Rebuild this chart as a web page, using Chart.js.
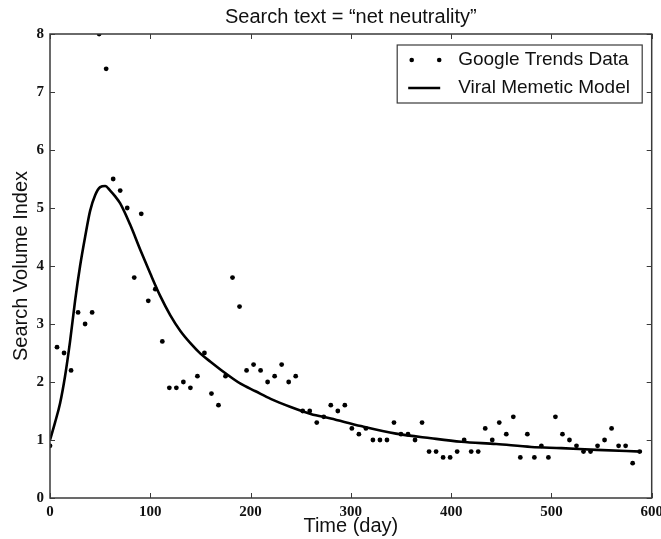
<!DOCTYPE html>
<html>
<head>
<meta charset="utf-8">
<script src="https://cdn.jsdelivr.net/npm/chart.js@4/dist/chart.umd.min.js"></script>
<style>
  html, body { margin: 0; padding: 0; background: #fff; }
  #wrap { width: 661px; height: 539px; }
</style>
</head>
<body>
<div id="wrap"><canvas id="c" width="661" height="539"></canvas></div>
<script>
// ---- Data ----
const trendDays = [0,7,14,21,28,35,42,49,56,63,70,77,84,91,98,105,112,119,126,133,140,147,154,161,168,175,182,189,196,203,210,217,224,231,238,245,252,259,266,273,280,287,294,301,308,315,322,329,336,343,350,357,364,371,378,385,392,399,406,413,420,427,434,441,448,455,462,469,476,483,490,497,504,511,518,525,532,539,546,553,560,567,574,581,588];
const trendValues = [0.9,2.6,2.5,2.2,3.2,3.0,3.2,8.0,7.4,5.5,5.3,5.0,3.8,4.9,3.4,3.6,2.7,1.9,1.9,2.0,1.9,2.1,2.5,1.8,1.6,2.1,3.8,3.3,2.2,2.3,2.2,2.0,2.1,2.3,2.0,2.1,1.5,1.5,1.3,1.4,1.6,1.5,1.6,1.2,1.1,1.2,1.0,1.0,1.0,1.3,1.1,1.1,1.0,1.3,0.8,0.8,0.7,0.7,0.8,1.0,0.8,0.8,1.2,1.0,1.3,1.1,1.4,0.7,1.1,0.7,0.9,0.7,1.4,1.1,1.0,0.9,0.8,0.8,0.9,1.0,1.2,0.9,0.9,0.6,0.8];

const modelDays = [0,5,10,15,20,25,30,35,40,45,50,55,60,65,70,80,90,100,110,120,130,140,150,160,175,190,205,220,240,260,280,310,345,380,410,445,480,510,545,590];
const modelValues = [1.0,1.3,1.63,2.1,2.7,3.4,4.0,4.5,4.95,5.22,5.36,5.38,5.3,5.2,5.08,4.71,4.28,3.87,3.48,3.15,2.88,2.67,2.49,2.35,2.15,1.97,1.84,1.71,1.57,1.45,1.37,1.24,1.11,1.03,0.97,0.93,0.88,0.86,0.83,0.80];

const xTicks = [0,100,200,300,400,500,600];
const yTicks = [0,1,2,3,4,5,6,7,8];

const titleText = 'Search text = \u201Cnet neutrality\u201D';
const xTitle = 'Time (day)';
const yTitle = 'Search Volume Index';
const seriesNames = ['Google Trends Data', 'Viral Memetic Model'];

// ---- Plugins ----
const frameColor = '#3a3a3a';
const framePlugin = {
  id: 'frame',
  afterDatasetsDraw(chart) {
    const {ctx, chartArea: a, scales: {x, y}} = chart;
    ctx.save();
    ctx.strokeStyle = frameColor;
    ctx.lineWidth = 1.5;
    ctx.strokeRect(a.left, a.top, a.right - a.left, a.bottom - a.top);
    ctx.lineWidth = 1;
    const tl = 5;
    ctx.beginPath();
    x.ticks.forEach(t => {
      const px = Math.round(x.getPixelForValue(t.value)) + 0.5;
      ctx.moveTo(px, a.bottom); ctx.lineTo(px, a.bottom - tl);
      ctx.moveTo(px, a.top); ctx.lineTo(px, a.top + tl);
    });
    y.ticks.forEach(t => {
      const py = Math.round(y.getPixelForValue(t.value)) + 0.5;
      ctx.moveTo(a.left, py); ctx.lineTo(a.left + tl, py);
      ctx.moveTo(a.right, py); ctx.lineTo(a.right - tl, py);
    });
    ctx.stroke();
    ctx.restore();
  }
};

const legendPlugin = {
  id: 'boxLegend',
  afterDraw(chart) {
    const {ctx, chartArea: a} = chart;
    const w = 245, h = 58;
    const left = a.right - 9.5 - w;
    const top = a.top + 11;
    ctx.save();
    ctx.fillStyle = '#fff';
    ctx.fillRect(left, top, w, h);
    ctx.strokeStyle = frameColor;
    ctx.lineWidth = 1.2;
    ctx.strokeRect(left, top, w, h);
    // row 1: two dots
    const r1 = top + 14.5, r2 = top + 42.5;
    ctx.fillStyle = '#000';
    [left + 14.5, left + 42].forEach(cx => {
      ctx.beginPath(); ctx.arc(cx, r1 + 0.5, 2.3, 0, Math.PI * 2); ctx.fill();
    });
    // row 2: line
    ctx.strokeStyle = '#000';
    ctx.lineWidth = 2.5;
    ctx.beginPath(); ctx.moveTo(left + 11, r2 + 0.5); ctx.lineTo(left + 43, r2 + 0.5); ctx.stroke();
    ctx.fillStyle = '#111';
    ctx.font = '19px "Liberation Sans", Arial, sans-serif';
    ctx.textBaseline = 'middle';
    ctx.textAlign = 'left';
    ctx.fillText(chart.data.datasets[0].label, left + 61, r1);
    ctx.fillText(chart.data.datasets[1].label, left + 61, r2);
    ctx.restore();
  }
};

const trendData = trendDays.map((d, i) => ({x: d, y: trendValues[i]}));
const modelData = modelDays.map((d, i) => ({x: d, y: modelValues[i]}));

const sansFont = '"Liberation Sans", Arial, sans-serif';
const tickFont = {family: '"Liberation Serif", "Times New Roman", serif', size: 15, weight: 'bold'};

new Chart(document.getElementById('c'), {
  type: 'scatter',
  data: {
    datasets: [
      {
        label: seriesNames[0],
        data: trendData,
        backgroundColor: '#000',
        borderColor: '#000',
        pointRadius: 2.4,
        pointHoverRadius: 2.4,
        pointBorderWidth: 0,
        showLine: false,
        order: 2
      },
      {
        type: 'line',
        label: seriesNames[1],
        data: modelData,
        borderColor: '#000',
        backgroundColor: '#000',
        borderWidth: 2.6,
        pointRadius: 0,
        fill: false,
        cubicInterpolationMode: 'monotone',
        order: 1
      }
    ]
  },
  options: {
    responsive: false,
    devicePixelRatio: 1,
    animation: false,
    events: [],
    layout: {padding: {left: 0, right: 9.3, top: 0, bottom: 0}},
    plugins: {
      legend: {display: false},
      tooltip: {enabled: false},
      title: {
        display: true,
        text: titleText,
        fullSize: false,
        color: '#111',
        font: {family: sansFont, size: 20, weight: 'normal', lineHeight: 1.2},
        padding: {top: 5, bottom: 5}
      }
    },
    scales: {
      x: {
        type: 'linear',
        min: 0, max: 600,
        afterBuildTicks(scale) { scale.ticks = xTicks.map(v => ({value: v})); },
        afterFit(scale) { scale.height = 41; scale.paddingLeft = 0; scale.paddingRight = 0; },
        grid: {display: false, drawTicks: false},
        border: {display: false},
        ticks: {color: '#111', font: tickFont, padding: 5, maxRotation: 0, autoSkip: false},
        title: {display: true, text: xTitle, color: '#111', font: {family: sansFont, size: 20, lineHeight: 1.2}, padding: {top: 0, bottom: 1}}
      },
      y: {
        type: 'linear',
        min: 0, max: 8,
        afterBuildTicks(scale) { scale.ticks = yTicks.map(v => ({value: v})); },
        afterFit(scale) { scale.width = 50; scale.paddingTop = 0; scale.paddingBottom = 0; },
        grid: {display: false, drawTicks: false},
        border: {display: false},
        ticks: {color: '#111', font: tickFont, padding: 6, autoSkip: false},
        title: {display: true, text: yTitle, color: '#111', font: {family: sansFont, size: 20, lineHeight: 1.2}, padding: {top: 9, bottom: 0}}
      }
    }
  },
  plugins: [framePlugin, legendPlugin]
});
</script>
</body>
</html>
